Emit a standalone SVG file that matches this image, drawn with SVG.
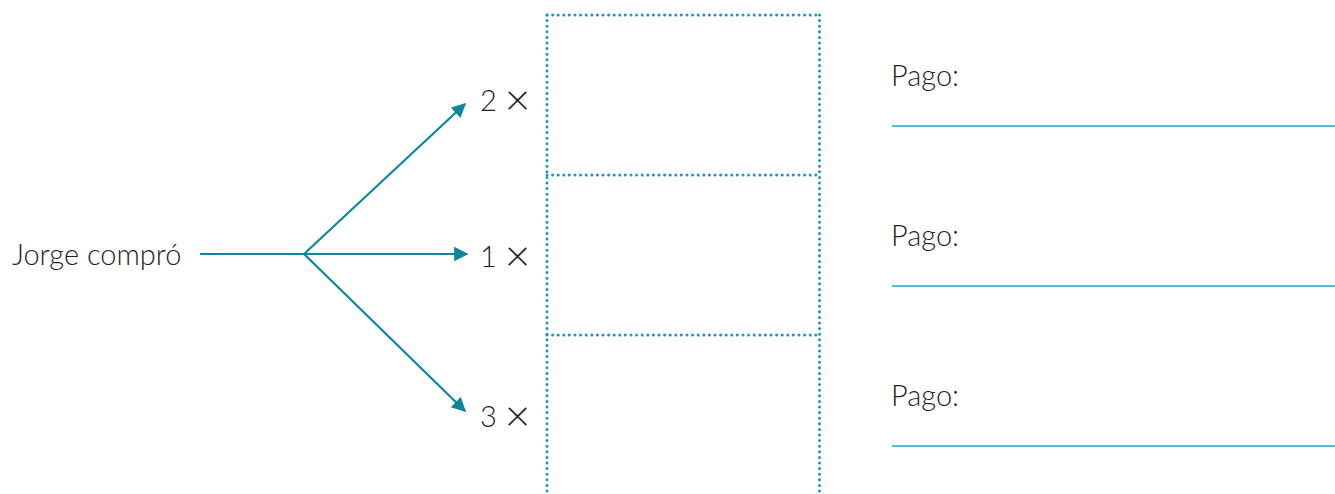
<svg xmlns="http://www.w3.org/2000/svg" width="1335" height="494" viewBox="0 0 1335 494">
<style>
.t{font-family:Lato,"Open Sans","Liberation Sans",sans-serif;font-weight:300;fill:#231f20;font-size:29px}
.x{font-size:44px}
.c{stroke:#0b879e;stroke-width:2.2;fill:none}
.d{stroke:#1597c0;stroke-width:3;stroke-dasharray:0 5.6;stroke-linecap:round;fill:none}
.u{stroke:#1aa3cc;stroke-width:1.5}
</style>
<defs>
<marker id="a" viewBox="0 0 10 10" refX="9" refY="5" markerWidth="6.5" markerHeight="7" orient="auto" markerUnits="strokeWidth">
<path d="M0,0 L10,5 L0,10 z" fill="#0b879e"/>
</marker>
</defs>
<g id="source"><text class="t" x="12" y="265">Jorge compró</text></g>
<g id="connectors">
<path class="c" d="M200,254 H304"/>
<path class="c" d="M304,254 L465,104" marker-end="url(#a)"/>
<path class="c" d="M304,254 H467" marker-end="url(#a)"/>
<path class="c" d="M304,254 L465,411" marker-end="url(#a)"/>
</g>
<g id="n2"><text class="t" x="480" y="111">2 <tspan class="x" dy="4">×</tspan></text></g>
<g id="n1"><text class="t" x="480" y="267">1 <tspan class="x" dy="4">×</tspan></text></g>
<g id="n3"><text class="t" x="480" y="427">3 <tspan class="x" dy="4">×</tspan></text></g>
<g id="boxes">
<path class="d" d="M547,15 H820"/>
<path class="d" d="M547,175 H820"/>
<path class="d" d="M547,335 H820"/>
<path class="d" d="M547,15 V494"/>
<path class="d" d="M819.5,15 V494"/>
</g>
<g id="pago1"><text class="t" x="891" y="86">Pago:</text><line class="u" x1="892" y1="126" x2="1335" y2="126"/></g>
<g id="pago2"><text class="t" x="891" y="246">Pago:</text><line class="u" x1="892" y1="286" x2="1335" y2="286"/></g>
<g id="pago3"><text class="t" x="891" y="406">Pago:</text><line class="u" x1="892" y1="446" x2="1335" y2="446"/></g>
</svg>
